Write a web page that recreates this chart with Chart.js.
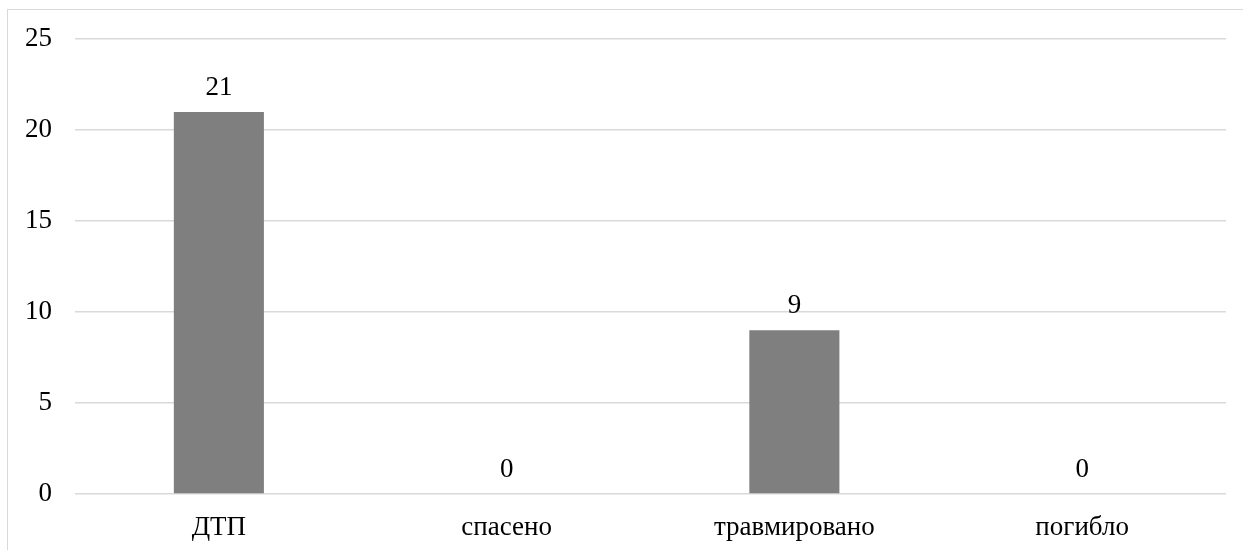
<!DOCTYPE html>
<html>
<head>
<meta charset="utf-8">
<script src="https://cdn.jsdelivr.net/npm/chart.js@4"></script>
<style>
  html, body { margin: 0; padding: 0; background: #fff; }
  #wrap { position: relative; width: 1243px; height: 550px; overflow: hidden; }
  #frame { position: absolute; left: 7px; top: 9px; width: 1300px; height: 600px; border: 1.5px solid #d9d9d9; }
  canvas { position: absolute; left: 0; top: 0; }
</style>
</head>
<body>
<div id="wrap">
  <div id="frame"></div>
  <canvas id="myChart" width="1243" height="550"></canvas>
</div>
<script>
const categories = ['ДТП', 'спасено', 'травмировано', 'погибло']
const values = [21, 0, 9, 0]
const yTicks = [0, 5, 10, 15, 20, 25]

// value labels above bars
const valueLabels = {
	id: 'valueLabels',
	afterDatasetsDraw(chart) {
		const c = chart.ctx
		const meta = chart.getDatasetMeta(0)
		c.save()
		c.font = '27px "Liberation Serif", "Times New Roman", serif'
		c.fillStyle = '#000'
		c.textAlign = 'center'
		c.textBaseline = 'alphabetic'
		meta.data.forEach(function (bar, i) {
			c.fillText(values[i], bar.x, bar.y - 17)
		})
		c.restore()
	}
}

const ctx = document.getElementById('myChart')
const myChart = new Chart(ctx, {
	type: 'bar',
	data: {
		labels: categories,
		datasets: [
			{
				data: values,
				backgroundColor: '#7f7f7f',
				barPercentage: 1,
				categoryPercentage: 0.313,
			},
		],
	},
	options: {
		responsive: false,
		animation: false,
		layout: {
			padding: { left: 0, right: 17, top: 34, bottom: 0 }
		},
		plugins: {
			legend: { display: false },
			tooltip: { enabled: false },
		},
		scales: {
			x: {
				grid: { display: false, drawTicks: false },
				border: { display: false },
				ticks: {
					color: '#000',
					padding: 18,
					font: { family: '"Liberation Serif", "Times New Roman", serif', size: 27 },
				},
				afterFit: function (scale) { scale.height = 56 },
			},
			y: {
				min: 0,
				max: 25,
				afterBuildTicks: function (scale) {
					scale.ticks = yTicks.map(function (v) { return { value: v } })
				},
				grid: { color: '#d9d9d9', lineWidth: 1.5, drawTicks: false },
				border: { display: false },
				ticks: {
					color: '#000',
					padding: 23,
					font: { family: '"Liberation Serif", "Times New Roman", serif', size: 27 },
				},
				afterFit: function (scale) { scale.width = 75 },
			},
		},
	},
	plugins: [valueLabels],
})
</script>
</body>
</html>
